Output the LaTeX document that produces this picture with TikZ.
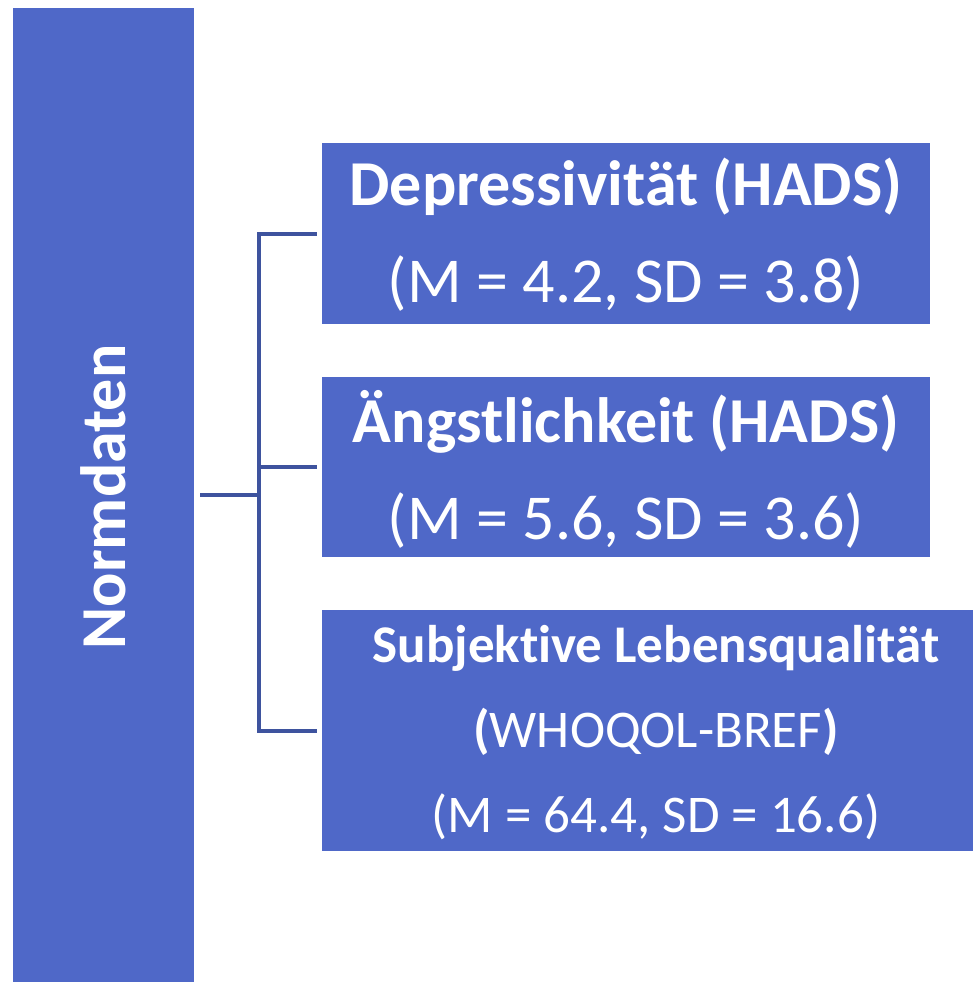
\documentclass[tikz,border=0pt]{standalone}
\usepackage{fontspec}
\setmainfont[Ligatures=NoCommon]{Carlito}
\definecolor{boxblue}{HTML}{4F68C8}
\definecolor{lineblue}{HTML}{3E539E}
\begin{document}
\begin{tikzpicture}[x=1pt,y=-1pt,
  box/.style={fill=boxblue,draw=none,inner sep=0pt,text=white,align=center},
  conn/.style={draw=lineblue,line width=4pt}]
\useasboundingbox (0,0) rectangle (973,982);
\node[box,minimum width=181pt,minimum height=974pt] (n) at (103.5,495) {};
\node[text=white,rotate=90,font=\fontsize{64}{72}\selectfont\bfseries] (nt) at (103.5,497) {Normdaten};
\node[box,minimum width=608pt,minimum height=181pt] (d) at (626,233.5) {};
\node[text=white,align=center,font=\fontsize{64}{97}\selectfont] (dt) at (626,235) {\textbf{Depressivität (HADS)}\\(M = 4.2, SD = 3.8)};
\node[box,minimum width=608pt,minimum height=180pt] (a) at (626,467) {};
\node[text=white,align=center,font=\fontsize{64}{97}\selectfont] (at) at (626,469) {\textbf{Ängstlichkeit (HADS)}\\(M = 5.6, SD = 3.6)};
\node[box,minimum width=651pt,minimum height=241pt] (s) at (647.5,730.5) {};
\node[text=white,align=center,font=\fontsize{53}{85}\selectfont] (st) at (656,733) {\textbf{Subjektive Lebensqualität}\\\textbf{(}WHOQOL-BREF\textbf{)}\\(M = 64.4, SD = 16.6)};
\coordinate (j) at (259,497);
\draw[conn] ([xshift=-5pt]d.west) -- (d.west -| j) -- (s.west -| j) -- ([xshift=-5pt]s.west);
\draw[conn] (a.west -| j) -- ([xshift=-5pt]a.west);
\draw[conn] ([xshift=6pt]n.east) -- (n.east -| j);
\end{tikzpicture}
\end{document}
